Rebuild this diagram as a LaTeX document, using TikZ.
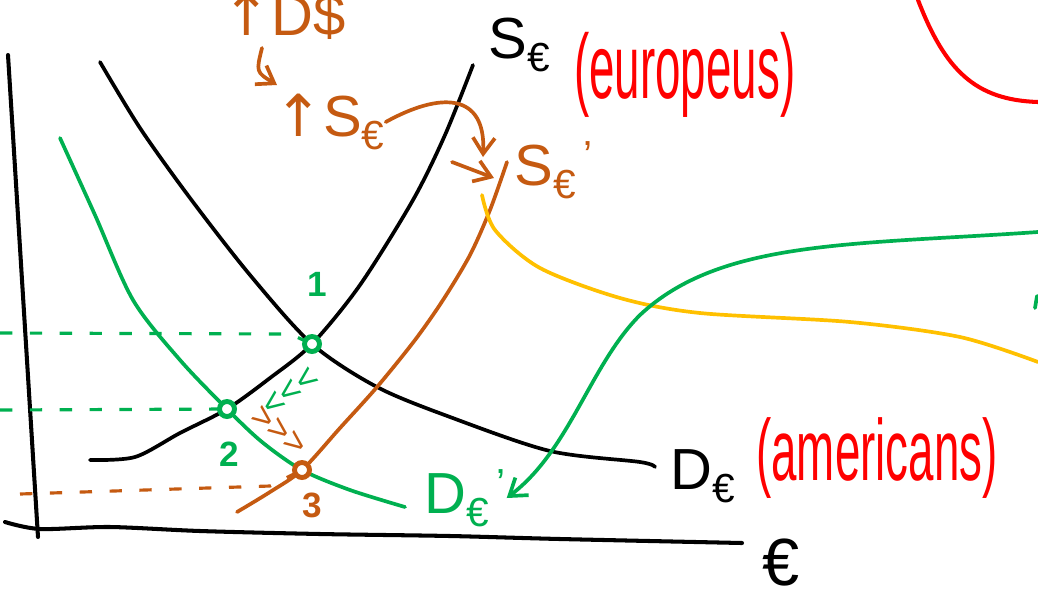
\documentclass[tikz,border=0pt]{standalone}
\usepackage{fontspec}
\setmainfont{Liberation Sans}
\newfontfamily\arrowfont{DejaVu Sans}
\usepackage{graphicx}
\usetikzlibrary{arrows.meta, positioning, calc}
\definecolor{EconOrange}{RGB}{197,90,17}
\definecolor{EconGreen}{RGB}{0,176,80}
\definecolor{EconYellow}{RGB}{255,192,0}
\definecolor{EconRed}{RGB}{255,0,0}

\begin{document}
\begin{tikzpicture}[
  x=0.02cm, y=-0.02cm,
  crv/.style={line width=2.1pt, line cap=round},
  axis/.style={line width=2.3pt, line cap=round},
  hand/.style={font=\fontsize{33}{35}\selectfont, inner sep=0pt},
  note/.style={font=\fontsize{26}{28}\selectfont, text=EconRed, inner sep=0pt},
  nums/.style={font=\fontsize{20}{22}\selectfont\bfseries, inner sep=0pt},
  marks/.style={font=\fontsize{20}{22}\selectfont, inner sep=0pt},
  pt/.style={circle, line width=2.8pt, minimum size=0.3cm, inner sep=0pt, fill=white},
  guide/.style={line width=1.8pt, dash pattern=on 7pt off 10pt},
  arr/.style={-{Straight Barb[length=3.2mm, width=4.4mm]}, line width=2.1pt, line cap=round},
]
\useasboundingbox (0,0) rectangle (1038,603);
%% Axes
\draw[axis] (8,55) -- (38,537);
\draw[axis] plot[smooth] coordinates {(5,522) (40,529) (110,527) (200,531) (320,534) (450,536) (560,539) (742,543)};
\node[hand, font=\fontsize{38}{40}\selectfont] (euro) at (781,563) {€};
%% Equilibrium points
\coordinate (q1) at (312,344);
\coordinate (q2) at (227,409);
\coordinate (q3) at (302,470);
%% Supply and demand (black)
\draw[crv] plot[smooth] coordinates {(90,460) (135,457) (180,433) (q2) (270,378) (q1) (360,285) (413,200) (445,135) (473,65)};
\draw[crv] plot[smooth] coordinates {(100,62) (140,128) (190,198) (250,275) (q1) (377,387) (450,417) (550,451) (640,462) (655,467)};
%% New demand (green) and new supply (orange)
\draw[crv, EconGreen] plot[smooth] coordinates {(60,138) (95,215) (133,300) (180,360) (q2) (262,442) (q3) (350,490) (405,507)};
\draw[crv, EconOrange] plot[smooth] coordinates {(237,512) (270,492) (q3) (340,428) (377,387) (415,340) (443,300) (470,255) (490,210) (507,162)};
%% Dashed guides
\draw[guide, EconGreen] (0,333) -- (290,334) -- (q1);
\draw[guide, EconGreen] (0,410) -- (q2);
\draw[guide, EconOrange] (20,494) -- (270,486) -- (q3);
%% Points
\node[pt, draw=EconGreen] (e1) at (q1) {};
\node[pt, draw=EconGreen] (e2) at (q2) {};
\node[pt, draw=EconOrange] (e3) at (q3) {};
\node[nums, text=EconGreen, above=0.75cm of e1, xshift=0.1cm] {1};
\node[nums, text=EconGreen, below=0.45cm of e2, xshift=0.05cm] {2};
\node[nums, text=EconOrange, below=0.25cm of e3, xshift=0.2cm] {3};
\node[marks, text=EconGreen, rotate=37] (mv12) at (291,392) {<{}<{}<};
\node[marks, text=EconOrange, rotate=-38] (mv23) at (279,431) {>{}>{}>};
%% Curve labels
\node[hand, anchor=west] (slbl) at (488,45) {S\textsubscript{€}};
\node[note, anchor=west] (slbleu) at (574,75) {\scalebox{1}[2]{(europeus)}};
\node[hand, anchor=west] (dlbl) at (670,476) {D\textsubscript{€}};
\node[note, anchor=west] (dlblam) at (756,458) {\scalebox{1}[1.9]{(americans)}};
\node[hand, text=EconGreen, anchor=west] (dplbl) at (424,498) {D\textsubscript{€}\textsuperscript{\,'}};
\node[hand, text=EconOrange, anchor=west] (splbl) at (514,170) {S\textsubscript{€}\textsuperscript{\,'}};
%% Notes in orange
\node[hand, text=EconOrange] (dup) at (284,16) {{\arrowfont ↑}D\$};
\node[hand, text=EconOrange] (sup) at (330,122) {{\arrowfont ↑}S\textsubscript{€}};
\coordinate (c0) at (262,48);
\coordinate (c1) at (277,85);
\coordinate (c2) at (483,157);
\coordinate (c3) at (452,162);
\coordinate (c4) at (494,178);
\draw[arr, EconOrange] (c0) .. controls (256,72) .. (c1);
\draw[arr, EconOrange] (sup.east) .. controls (440,92) and (486,92) .. (c2);
\draw[arr, EconOrange] (c3) -- (c4);
%% Links to the side notes
\draw[crv, EconYellow] plot[smooth] coordinates {(482,195) (495,230) (540,268) (620,298) (700,313) (850,322) (960,337) (1038,362)};
\coordinate (g0) at (1038,232);
\draw[arr, EconGreen] (g0) .. controls (850,245) and (720,240) .. (640,315) .. controls (590,365) and (570,450) .. (dplbl.east);
\draw[crv, EconGreen] (1037,296) -- (1035,308);
\draw[crv, EconRed, line width=2.3pt] (918,0) .. controls (945,70) and (975,100) .. (1038,102);
\end{tikzpicture}
\end{document}
